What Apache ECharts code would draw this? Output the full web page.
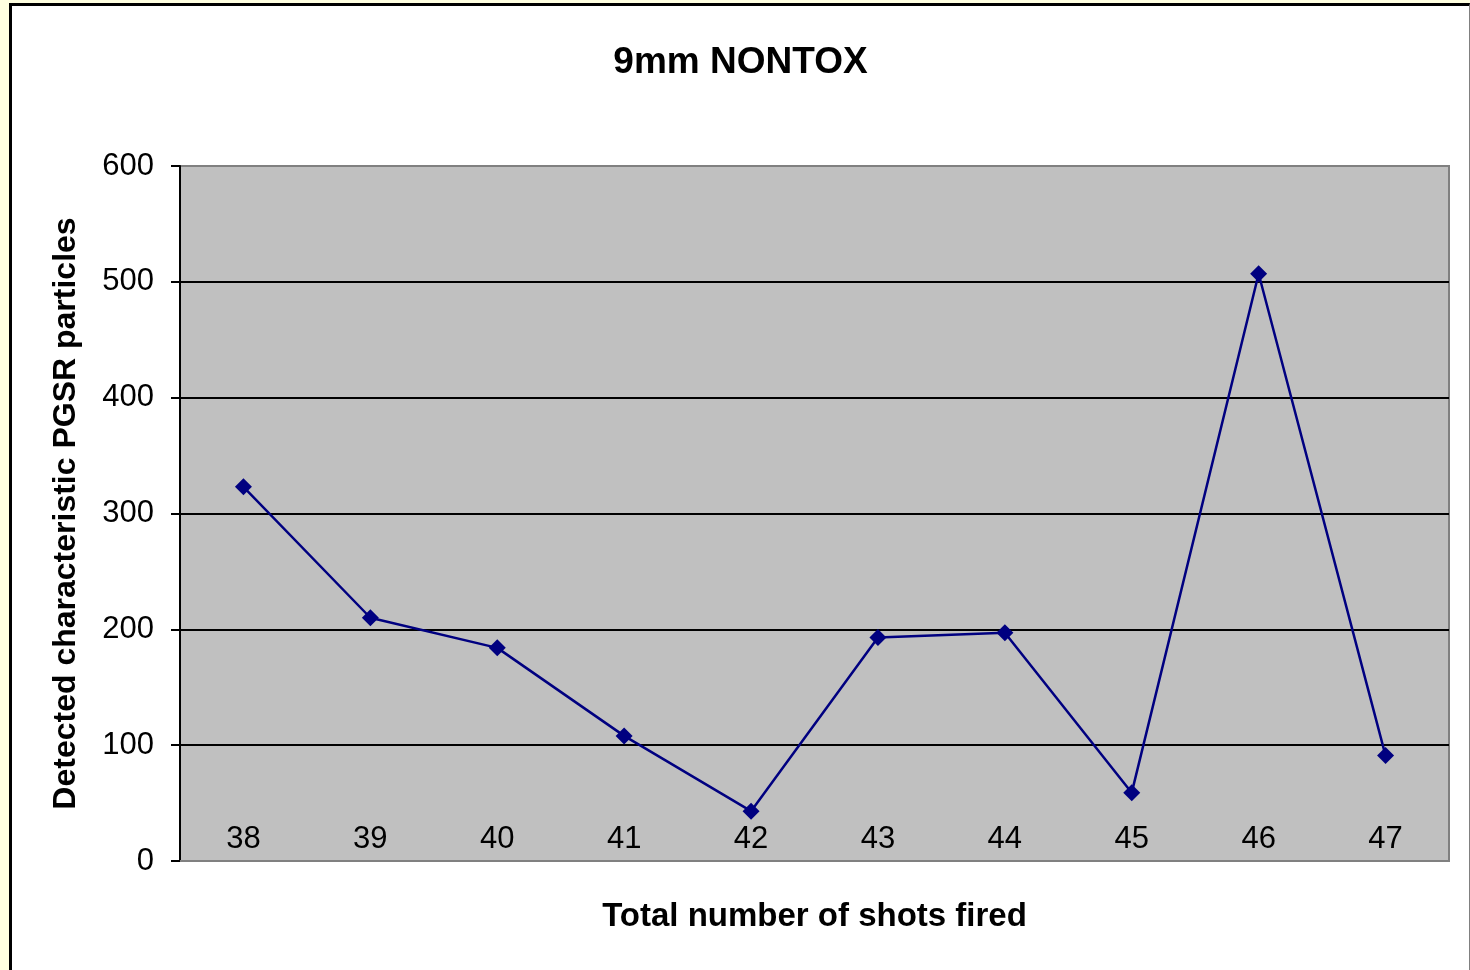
<!DOCTYPE html>
<html>
<head>
<meta charset="utf-8">
<script src="https://cdn.jsdelivr.net/npm/echarts@6/dist/echarts.min.js"></script>
<style>
  html, body { margin: 0; padding: 0; background: #ffffe0; overflow: hidden; }
  #chart {
    position: absolute; left: 9px; top: 3px;
    width: 1457px; height: 967px;
    background: #fff;
    border-left: 3px solid #000; border-top: 3px solid #000; border-right: 1px solid #808080;
  }
</style>
</head>
<body>
<div id="chart"></div>
<script>
// shots fired (categories) and detected particle counts
const shots = ["38", "39", "40", "41", "42", "43", "44", "45", "46", "47"];
const particles = [323, 210, 184, 108, 43, 193, 197, 59, 507, 91];
const yTicks = { min: 0, max: 600, interval: 100 };

const font = "Liberation Sans, Arial, sans-serif";
const chart = echarts.init(document.getElementById("chart"));

chart.setOption({
  animation: false,
  title: {
    text: "9mm NONTOX",
    left: "center",
    top: 33,
    textStyle: { fontFamily: font, fontSize: 37, fontWeight: "bold", color: "#000" }
  },
  grid: {
    left: 168, right: 20, top: 160, bottom: 112,
    show: true, backgroundColor: "#c0c0c0", borderColor: "#808080", borderWidth: 2
  },
  xAxis: {
    type: "category",
    data: shots,
    boundaryGap: true,
    name: "Total number of shots fired",
    nameLocation: "middle",
    nameGap: 39,
    nameTextStyle: { fontFamily: font, fontSize: 33, fontWeight: "bold", color: "#000" },
    axisLine: { lineStyle: { color: "#808080", width: 2 } },
    axisTick: { show: false },
    axisLabel: { inside: true, margin: 6, fontFamily: font, fontSize: 31, color: "#000" },
    splitLine: { show: false }
  },
  yAxis: {
    type: "value",
    min: yTicks.min, max: yTicks.max, interval: yTicks.interval,
    name: "Detected characteristic PGSR particles",
    nameLocation: "middle",
    nameGap: 98,
    nameTextStyle: { fontFamily: font, fontSize: 32, fontWeight: "bold", color: "#000", padding: [0, 0, 0, 0] },
    axisLine: { show: true, lineStyle: { color: "#000", width: 2 } },
    axisTick: { show: true, length: 9, lineStyle: { color: "#000", width: 2 } },
    axisLabel: { margin: 26, fontFamily: font, fontSize: 31, color: "#000" },
    splitLine: { show: true, showMinLine: false, showMaxLine: false, lineStyle: { color: "#000", width: 2 } }
  },
  series: [{
    type: "line",
    data: particles,
    symbol: "diamond",
    symbolSize: 17,
    itemStyle: { color: "#000080" },
    lineStyle: { color: "#000080", width: 2.5 }
  }]
});
</script>
</body>
</html>
